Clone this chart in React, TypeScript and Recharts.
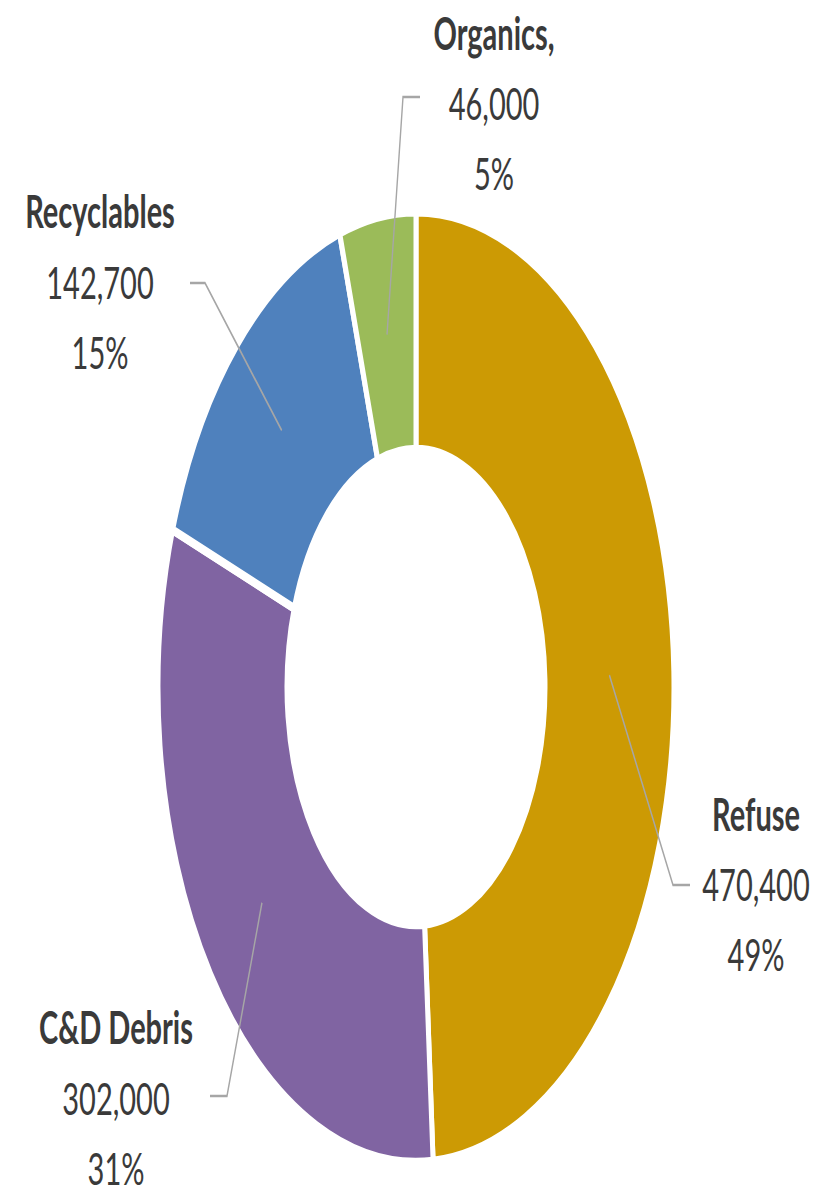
import { PieChart, Pie, Cell } from "recharts";

// tonnes per year by stream
const categories = ["Refuse", "C&D Debris", "Recyclables", "Organics,"];
const tonnes = [470400, 302000, 142700, 46000];
const colors = ["#CC9A04", "#8064A2", "#4F81BD", "#9BBB59"];

const data = categories.map((name, i) => ({ name, value: tonnes[i] }));

// the source image is stretched vertically, so the chart is drawn round and scaled
const STRETCH = 1.842;
const W = 836;
const H = 1196 / STRETCH;
const CX = 416;
const CY = 373;
const INNER = 129;
const OUTER = 258;
const RAD = Math.PI / 180;

// where Excel put each label: text centre x, first baseline y, leader elbow and end
const labelLayout: Record<string, { x: number; y: number; elbow: [number, number]; end: [number, number] }> = {
  Refuse: { x: 756, y: 451, elbow: [673, 480.5], end: [690, 480.5] },
  "C&D Debris": { x: 116, y: 567, elbow: [227, 595], end: [210, 595] },
  Recyclables: { x: 100, y: 124, elbow: [205, 153.6], end: [190, 153.6] },
  "Organics,": { x: 494, y: 27, elbow: [403, 52.7], end: [420, 52.7] },
};

const LINE_GAP = 38.2;
const TEXT_SQUASH = 0.85;

function renderLabel(props: any) {
  const { midAngle, index, percent } = props;
  const name = categories[index];
  const layout = labelLayout[name];
  const r = (INNER + OUTER) / 2;
  const sx = CX + r * Math.cos(-midAngle * RAD);
  const sy = CY + r * Math.sin(-midAngle * RAD);
  const lines = [name, tonnes[index].toLocaleString("en-US"), `${Math.round(percent * 100)}%`];
  return (
    <g key={`label-${index}`}>
      <polyline
        points={`${sx},${sy} ${layout.elbow[0]},${layout.elbow[1]} ${layout.end[0]},${layout.end[1]}`}
        fill="none"
        stroke="#A6A6A6"
        strokeWidth={1.4}
      />
      {lines.map((t, j) => (
        <g key={j} transform={`translate(${layout.x},${layout.y + j * LINE_GAP}) scale(1,${TEXT_SQUASH})`}>
          <text
            x={0}
            y={0}
            textAnchor="middle"
            fontFamily="Lato, 'Open Sans', sans-serif"
            fontSize={29}
            fontWeight={j === 0 ? 700 : 400}
            fill="#3A3A3A"
          >
            {t}
          </text>
        </g>
      ))}
    </g>
  );
}

export default function App() {
  return (
    <div
      style={{
        position: "absolute",
        left: 0,
        top: 0,
        width: W,
        height: H,
        transform: `scaleY(${STRETCH})`,
        transformOrigin: "0 0",
        background: "#fff",
      }}
    >
      <PieChart width={W} height={H} margin={{ top: 0, right: 0, bottom: 0, left: 0 }}>
        <Pie
          data={data}
          dataKey="value"
          nameKey="name"
          cx={CX}
          cy={CY}
          innerRadius={INNER}
          outerRadius={OUTER}
          startAngle={90}
          endAngle={-270}
          stroke="#fff"
          strokeWidth={5}
          label={renderLabel}
          labelLine={false}
          isAnimationActive={false}
        >
          {data.map((entry, index) => (
            <Cell key={`cell-${index}`} fill={colors[index]} />
          ))}
        </Pie>
      </PieChart>
    </div>
  );
}
